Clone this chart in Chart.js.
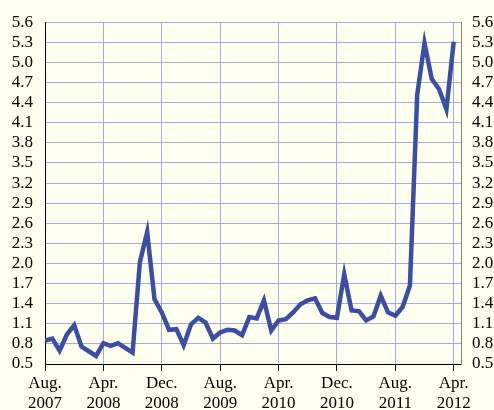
<!DOCTYPE html>
<html>
<head>
<meta charset="utf-8">
<script src="https://cdn.jsdelivr.net/npm/chart.js@4.4.1/dist/chart.umd.min.js"></script>
<style>
  html, body { margin: 0; padding: 0; background: #FFFFF0; }
  #wrap { width: 494px; height: 410px; }
</style>
</head>
<body>
<div id="wrap"><canvas id="chart1" width="494" height="410"></canvas></div>
<script>
// monthly values, Aug. 2007 .. Apr. 2012
const values = [
  0.85, 0.88, 0.70, 0.94, 1.08, 0.76, 0.69, 0.62, 0.81, 0.77, 0.81, 0.74,
  0.67, 2.02, 2.47, 1.47, 1.27, 1.01, 1.02, 0.78, 1.09, 1.19, 1.12, 0.88,
  0.97, 1.01, 1.00, 0.93, 1.20, 1.18, 1.45, 1.00, 1.15, 1.17, 1.27, 1.39,
  1.45, 1.48, 1.26, 1.20, 1.19, 1.84, 1.30, 1.29, 1.15, 1.21, 1.52, 1.27,
  1.22, 1.35, 1.67, 4.52, 5.29, 4.75, 4.60, 4.30, 5.31
];
const monthIndex = values.map((v, i) => i);

// x ticks every 8 months
const xTickPos = [0, 8, 16, 24, 32, 40, 48, 56];
const xTickLabels = [
  ['Aug.', '2007'], ['Apr.', '2008'], ['Dec.', '2008'], ['Aug.', '2009'],
  ['Apr.', '2010'], ['Dec.', '2010'], ['Aug.', '2011'], ['Apr.', '2012']
];
const yTicks = [0.5, 0.8, 1.1, 1.4, 1.7, 2.0, 2.3, 2.6, 2.9, 3.2, 3.5, 3.8, 4.1, 4.4, 4.7, 5.0, 5.3, 5.6];

const FONT = { family: "'Liberation Serif', 'Times New Roman', Times, serif", size: 17, lineHeight: 1.2 };
const GRID = '#A8A8E6';

const bgPlugin = {
  id: 'bg',
  beforeDraw(c) {
    const ctx = c.ctx;
    ctx.save();
    ctx.fillStyle = '#FFFFF0';
    ctx.fillRect(0, 0, c.width, c.height);
    ctx.restore();
  }
};

function setTicks(list){ return s => { s.ticks = list.map(v => ({ value: v })); }; }

new Chart(document.getElementById('chart1').getContext('2d'), {
  type: 'line',
  data: {
    datasets: [{
      data: monthIndex.map((x, i) => ({ x, y: values[i] })),
      borderColor: '#3A4EA6',
      borderWidth: 4.5,
      borderJoinStyle: 'miter',
      pointRadius: 0,
      tension: 0,
      fill: false
    }]
  },
  options: {
    responsive: false,
    devicePixelRatio: 1,
    animation: false,
    layout: { padding: { top: 19, left: 0, right: 0, bottom: 0 } },
    plugins: { legend: { display: false }, tooltip: { enabled: false } },
    scales: {
      x: {
        type: 'linear', min: 0, max: 57,
        afterBuildTicks: setTicks(xTickPos),
        afterFit: s => { s.height = 46; },
        grid: { color: GRID, tickColor: '#000', tickLength: 7, drawTicks: true },
        border: { color: '#000', width: 1 },
        ticks: {
          color: '#000', font: FONT, padding: 2, maxRotation: 0, autoSkip: false,
          callback: v => xTickLabels[xTickPos.indexOf(v)]
        }
      },
      y: {
        position: 'left', min: 0.5, max: 5.6,
        afterBuildTicks: setTicks(yTicks),
        afterFit: s => { s.width = 45; },
        grid: { color: GRID, drawTicks: false },
        border: { color: '#000', width: 1 },
        ticks: { color: '#000', font: FONT, padding: 12, autoSkip: false, callback: v => v.toFixed(1) }
      },
      y2: {
        position: 'right', min: 0.5, max: 5.6,
        afterBuildTicks: setTicks(yTicks),
        afterFit: s => { s.width = 33; },
        grid: { drawOnChartArea: false, drawTicks: false },
        border: { color: '#808080', width: 1 },
        ticks: { color: '#000', font: FONT, padding: 11, autoSkip: false, callback: v => v.toFixed(1) }
      }
    }
  },
  plugins: [bgPlugin]
});
</script>
</body>
</html>
